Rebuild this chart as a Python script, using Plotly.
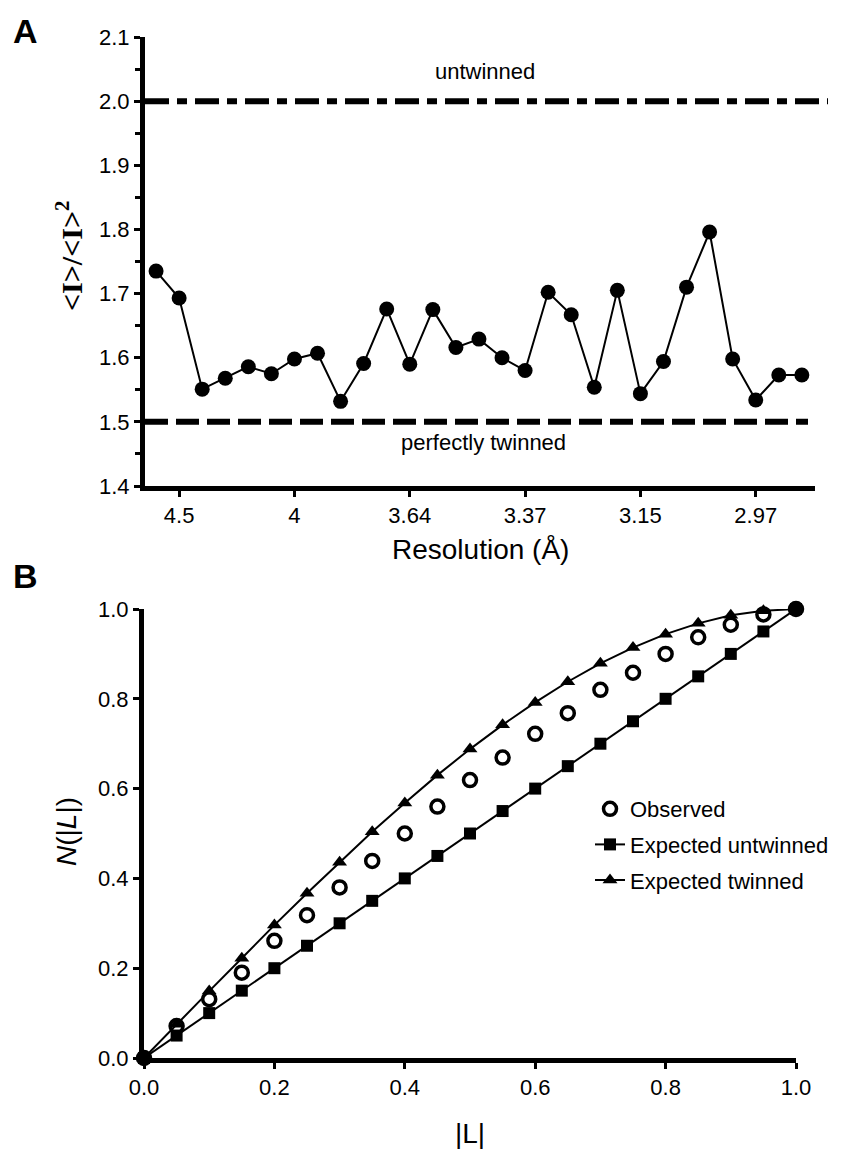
import plotly.graph_objects as go

# ---------------- Data: panel A ----------------
resolution_bin = [0, 1, 2, 3, 4, 5, 6, 7, 8, 9, 10, 11, 12, 13, 14, 15, 16, 17, 18, 19,
                  20, 21, 22, 23, 24, 25, 26, 27, 28]
intensity_ratio = [1.735, 1.693, 1.551, 1.568, 1.586, 1.575, 1.598, 1.607, 1.532, 1.591,
                   1.676, 1.590, 1.675, 1.616, 1.629, 1.600, 1.580, 1.702, 1.667, 1.554,
                   1.705, 1.544, 1.594, 1.710, 1.796, 1.598, 1.534, 1.573, 1.573]
res_tick_pos = [1, 6, 11, 16, 21, 26]
res_tick_text = ["4.5", "4", "3.64", "3.37", "3.15", "2.97"]
untwinned_level = 2.0
twinned_level = 1.5

# ---------------- Data: panel B ----------------
L_values = [0.0, 0.05, 0.1, 0.15, 0.2, 0.25, 0.3, 0.35, 0.4, 0.45, 0.5,
            0.55, 0.6, 0.65, 0.7, 0.75, 0.8, 0.85, 0.9, 0.95, 1.0]
observed = [0.0, 0.071, 0.131, 0.190, 0.261, 0.318, 0.380, 0.439, 0.500, 0.560, 0.619,
            0.669, 0.722, 0.768, 0.820, 0.858, 0.900, 0.937, 0.965, 0.988, 1.0]
expected_untwinned = [0.0, 0.05, 0.10, 0.15, 0.20, 0.25, 0.30, 0.35, 0.40, 0.45, 0.50,
                      0.55, 0.60, 0.65, 0.70, 0.75, 0.80, 0.85, 0.90, 0.95, 1.0]
expected_twinned = [0.0, 0.075, 0.149, 0.222, 0.296, 0.367, 0.436, 0.504, 0.568, 0.630, 0.688,
                    0.742, 0.792, 0.838, 0.879, 0.914, 0.944, 0.968, 0.986, 0.996, 1.0]

W, H = 847, 1150
SANS = "Liberation Sans, Arial, sans-serif"


def fx(p):
    return p / W


def fy(p):
    return 1 - p / H


fig = go.Figure()

# Panel A series
fig.add_trace(go.Scatter(
    x=resolution_bin, y=intensity_ratio, mode="lines+markers",
    line=dict(color="black", width=2),
    marker=dict(color="black", size=15, symbol="circle"),
    xaxis="x", yaxis="y", showlegend=False, cliponaxis=False,
))

# Panel B series
fig.add_trace(go.Scatter(
    x=L_values, y=expected_untwinned, mode="lines+markers", name="Expected untwinned",
    line=dict(color="black", width=2),
    marker=dict(color="black", size=12, symbol="square"),
    xaxis="x2", yaxis="y2", cliponaxis=False, legendrank=2, legendgroup="u",
))
fig.add_trace(go.Scatter(
    x=L_values, y=expected_twinned, mode="lines+markers", name="Expected twinned",
    line=dict(color="black", width=2),
    marker=dict(color="black", size=13, symbol="triangle-up"),
    xaxis="x2", yaxis="y2", cliponaxis=False, legendrank=3, legendgroup="t",
))
fig.add_trace(go.Scatter(
    x=L_values, y=observed, mode="markers", name="Observed",
    marker=dict(color="black", size=13, symbol="circle-open", line=dict(width=3.5, color="black")),
    xaxis="x2", yaxis="y2", cliponaxis=False, legendrank=1, legendgroup="o",
))

axis_common = dict(
    showline=True, linewidth=5, linecolor="black", showgrid=False, zeroline=False,
    ticks="outside", ticklen=6, tickwidth=3, tickcolor="black", automargin=False,
    tickfont=dict(family=SANS, size=22, color="black"),
)

fig.update_layout(
    template="none",
    width=W, height=H,
    margin=dict(l=0, r=0, t=0, b=0, pad=0, autoexpand=False),
    paper_bgcolor="white", plot_bgcolor="white",
    xaxis=dict(domain=[fx(145), fx(815)], range=[-0.48, 28.57], anchor="y",
               tickmode="array", tickvals=res_tick_pos, ticktext=res_tick_text, **axis_common),
    yaxis=dict(domain=[fy(486), fy(37)], range=[1.4, 2.1], anchor="x",
               tickmode="linear", tick0=1.4, dtick=0.1, tickformat=".1f",
               minor=dict(ticks="outside", dtick=0.05, ticklen=5, tickwidth=3, tickcolor="black"),
               **axis_common),
    xaxis2=dict(domain=[fx(144), fx(796)], range=[0, 1], anchor="y2",
                tickmode="linear", tick0=0, dtick=0.2, tickformat=".1f", **axis_common),
    yaxis2=dict(domain=[fy(1058), fy(609)], range=[0, 1], anchor="x2",
                tickmode="linear", tick0=0, dtick=0.2, tickformat=".1f", **axis_common),
    legend=dict(x=fx(590), y=fy(788), xanchor="left", yanchor="top",
                font=dict(family=SANS, size=22, color="black"),
                bgcolor="rgba(0,0,0,0)", borderwidth=0,
                traceorder="grouped", tracegroupgap=4),
    shapes=[
        dict(type="line", xref="paper", yref="y", x0=fx(145), x1=fx(828),
             y0=untwinned_level, y1=untwinned_level,
             line=dict(color="black", width=6, dash="24px,8px,10px,8px")),
        dict(type="line", xref="paper", yref="y", x0=fx(145), x1=fx(808),
             y0=twinned_level, y1=twinned_level,
             line=dict(color="black", width=6, dash="23px,8px")),
    ],
)

ann = [
    dict(text="<b>A</b>", x=fx(25), y=fy(31), font=dict(size=34)),
    dict(text="<b>B</b>", x=fx(25), y=fy(576), font=dict(size=34)),
    dict(text="untwinned", x=fx(485), y=fy(72), font=dict(size=22)),
    dict(text="perfectly twinned", x=fx(483), y=fy(442), font=dict(size=22)),
    dict(text="Resolution (Å)", x=fx(480), y=fy(549), font=dict(size=28)),
    dict(text="<b>&lt;I&gt;/&lt;I&gt;<sup>2</sup></b>", x=fx(69), y=fy(256), textangle=-90,
         font=dict(size=30, family="Liberation Serif, Times New Roman, serif")),
    dict(text="<i>N</i>(|<i>L</i>|)", x=fx(66), y=fy(832), textangle=-90, font=dict(size=28)),
    dict(text="|L|", x=fx(470), y=fy(1133), font=dict(size=28)),
]
for a in ann:
    f = dict(family=SANS, color="black")
    f.update(a.pop("font"))
    fig.add_annotation(xref="paper", yref="paper", xanchor="center", yanchor="middle",
                       showarrow=False, font=f, **a)

fig.write_html("out.html", config={"displayModeBar": False},
               post_script="document.body.style.margin='0';")
